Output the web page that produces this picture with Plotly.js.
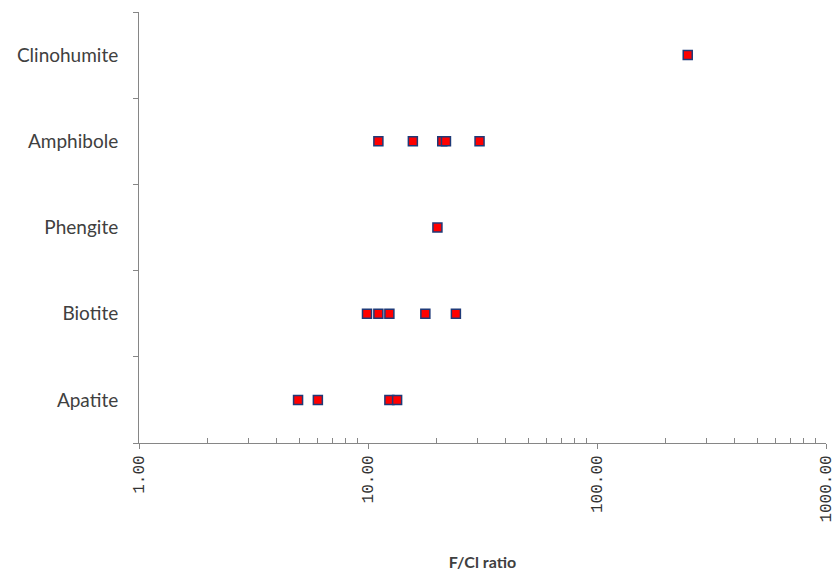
<!DOCTYPE html>
<html>
<head>
<meta charset="utf-8">
<script src="https://cdn.plot.ly/plotly-3.0.1.min.js"></script>
<style>html,body{margin:0;padding:0;background:#fff;}#chart{width:836px;height:576px;}</style>
</head>
<body>
<div id="chart"></div>
<script>
const categories = ["Apatite", "Biotite", "Phengite", "Amphibole", "Clinohumite"];
const apatite = [4.95, 6.04, 12.4, 13.4];
const biotite = [9.9, 11.1, 12.4, 17.8, 24.2];
const phengite = [20.1];
const amphibole = [11.1, 15.7, 21.1, 21.9, 30.7];
const clinohumite = [249];
const xTickVals = [1, 10, 100, 1000];
const xTickText = ["1.00", "10.00", "100.00", "1000.00"];
const minorTickVals = [2,3,4,5,6,7,8,9,20,30,40,50,60,70,80,90,200,300,400,500,600,700,800,900];

const seriesValues = [apatite, biotite, phengite, amphibole, clinohumite];
const xs = [], ys = [];
seriesValues.forEach((arr, i) => arr.forEach(v => { xs.push(v); ys.push(categories[i]); }));

const trace = {
  type: "scatter", mode: "markers", x: xs, y: ys,
  marker: {symbol: "square", size: 9, color: "#ff0000", line: {color: "#1f3a78", width: 1.5}},
  hoverinfo: "x+y", showlegend: false
};

const layout = {
  width: 836, height: 576,
  margin: {l: 139, r: 10, t: 12, b: 133},
  paper_bgcolor: "#fff", plot_bgcolor: "#fff",
  font: {family: "Lato, 'Liberation Sans', sans-serif", color: "#404040"},
  xaxis: {
    type: "log", range: [0, 3], tickmode: "array", tickvals: xTickVals, ticktext: xTickText,
    tickangle: -90, showgrid: false, zeroline: false, showline: true, linecolor: "#868686", linewidth: 1,
    ticks: "outside", ticklen: 5, tickcolor: "#868686", ticklabeloverflow: "allow",
    tickfont: {size: 16, color: "#333333", family: "'Liberation Mono', 'DejaVu Sans Mono', monospace"},
    minor: {tickmode: "array", tickvals: minorTickVals, ticks: "inside", ticklen: 5, tickcolor: "#868686", showgrid: false},
    title: {text: "<b>F/Cl ratio</b>", font: {size: 16, color: "#404040"}, standoff: 35},
    automargin: false
  },
  yaxis: {
    type: "category", categoryorder: "array", categoryarray: categories, range: [-0.5, 4.5],
    tickson: "boundaries", ticks: "outside", ticklen: 5, tickcolor: "#868686",
    showgrid: false, zeroline: false, showline: true, linecolor: "#868686", linewidth: 1,
    tickfont: {size: 19, color: "#404040"}, ticklabelstandoff: 16,
    automargin: false
  }
};

Plotly.newPlot("chart", [trace], layout, {displayModeBar: false, staticPlot: true});
</script>
</body>
</html>
